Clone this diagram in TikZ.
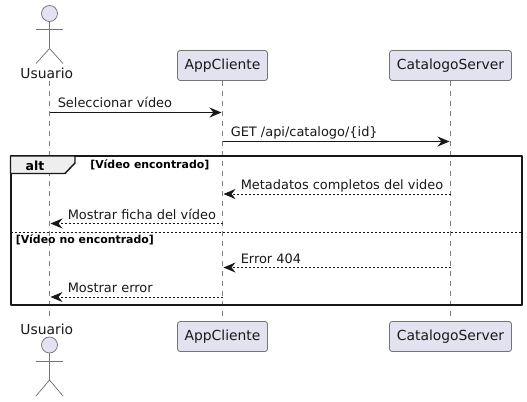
\documentclass[tikz,border=0pt]{standalone}
\usepackage{fontspec}
\setmainfont{DejaVu Sans}
\usetikzlibrary{arrows.meta}
\definecolor{partfill}{HTML}{E2E2F0}
\definecolor{partline}{HTML}{181818}
\definecolor{tabfill}{HTML}{EEEEEE}
\tikzset{
    part/.style={draw=partline!60, fill=partfill, line width=0.6pt, rounded corners=2pt, minimum height=22.5pt, inner sep=0pt, font=\fontsize{10.4}{12}\selectfont, text=partline},
    lifeline/.style={draw=partline!55, line width=0.5pt, dash pattern=on 3.75pt off 3.75pt},
    msg/.style={-{Stealth[length=9pt, width=7.5pt, inset=3pt]}, line width=0.7pt, draw=partline, shorten >=0.75pt},
    reply/.style={msg, dash pattern=on 1.5pt off 1.5pt},
    msglabel/.style={anchor=base west, inner sep=0pt, font=\fontsize{9.7}{12}\selectfont, text=partline},
    guard/.style={anchor=base west, inner sep=0pt, font=\fontsize{8.2}{10}\bfseries\selectfont},
    limb/.style={draw=partline!60, line width=0.55pt}
}
\begin{document}
\begin{tikzpicture}[x=0.75pt, y=-0.75pt, line join=round]
    \useasboundingbox (0,0) rectangle (527,401);

    % Actor de arriba
    \begin{scope}[shift={(49.5,13.5)}]
        \draw[limb, fill=partfill] (0,0) circle (8);
        \draw[limb] (0,8) -- (0,35);
        \draw[limb] (-13.5,15.5) -- (13.5,15.5);
        \draw[limb] (-13.5,50) -- (0,35) -- (13.5,50);
    \end{scope}
    % Actor de abajo
    \begin{scope}[shift={(49.5,345)}]
        \draw[limb, fill=partfill] (0,0) circle (8);
        \draw[limb] (0,8) -- (0,35);
        \draw[limb] (-13.5,16) -- (13.5,16);
        \draw[limb] (-13.5,51) -- (0,35) -- (13.5,51);
    \end{scope}

    % Participantes
    \node[part, draw=none, fill=none, minimum height=0pt, anchor=base] (usuarioTop) at (46.8,78.5) {Usuario};
    \node[part, draw=none, fill=none, minimum height=0pt, anchor=base] (usuarioBot) at (46.8,334.5) {Usuario};
    \node[part, minimum width=67.5pt] (appTop) at (222.5,65.5) {AppCliente};
    \node[part, minimum width=91.5pt] (catTop) at (450.5,65.5) {CatalogoServer};
    \node[part, minimum width=67.5pt] (appBot) at (222.5,336.5) {AppCliente};
    \node[part, minimum width=91.5pt] (catBot) at (450.5,336.5) {CatalogoServer};

    % Lineas de vida
    \coordinate (usuarioA) at (49.5,81);
    \coordinate (usuarioB) at (49.5,317);
    \draw[lifeline] (usuarioA) -- (usuarioB);
    \draw[lifeline] (appTop) -- (appBot);
    \draw[lifeline] (catTop) -- (catBot);

    % Marco alt
    \coordinate (frameA) at (10.5,156);
    \coordinate (frameB) at (522,305);
    \draw[line width=1.5pt, draw=partline] (frameA) rectangle (frameB);
    \draw[line width=1.1pt, draw=partline, fill=tabfill] (10.5,156) -- (75,156) -- (75,163) -- (65,173.5) -- (10.5,173.5) -- cycle;
    \node[font=\fontsize{9.4}{12}\bfseries\selectfont, anchor=base, inner sep=0pt] (altTab) at (35,170) {alt};
    \node[guard] (guardOne) at (90,168.5) {[Vídeo encontrado]};
    \coordinate (splitA) at (10.5,232.5);
    \coordinate (splitB) at (522,232.5);
    \draw[draw=partline, line width=0.7pt, dash pattern=on 1.5pt off 1.5pt] (splitA) -- (splitB);
    \node[guard] (guardTwo) at (15.5,243) {[Vídeo no encontrado]};

    % Mensajes
    \coordinate (m1a) at (49.5,112.5);
    \coordinate (m1b) at (222.5,112.5);
    \coordinate (m2a) at (222.5,141.5);
    \coordinate (m2b) at (450.5,141.5);
    \coordinate (m3a) at (450.5,194);
    \coordinate (m3b) at (222.5,194);
    \coordinate (m4a) at (222.5,223.5);
    \coordinate (m4b) at (49.5,223.5);
    \coordinate (m5a) at (450.5,267.5);
    \coordinate (m5b) at (222.5,267.5);
    \coordinate (m6a) at (222.5,297);
    \coordinate (m6b) at (49.5,297);
    \draw[msg] (m1a) -- (m1b);
    \draw[msg] (m2a) -- (m2b);
    \draw[reply] (m3a) -- (m3b);
    \draw[reply] (m4a) -- (m4b);
    \draw[reply] (m5a) -- (m5b);
    \draw[reply] (m6a) -- (m6b);
    \node[msglabel] (textOne) at (57.5,107.5) {Seleccionar vídeo};
    \node[msglabel] (textTwo) at (230.5,136.5) {GET /api/catalogo/\{id\}};
    \node[msglabel] (textThree) at (240.5,189.5) {Metadatos completos del video};
    \node[msglabel] (textFour) at (67.5,219) {Mostrar ficha del vídeo};
    \node[msglabel] (textFive) at (240.5,263) {Error 404};
    \node[msglabel] (textSix) at (67.5,292) {Mostrar error};
\end{tikzpicture}
\end{document}
